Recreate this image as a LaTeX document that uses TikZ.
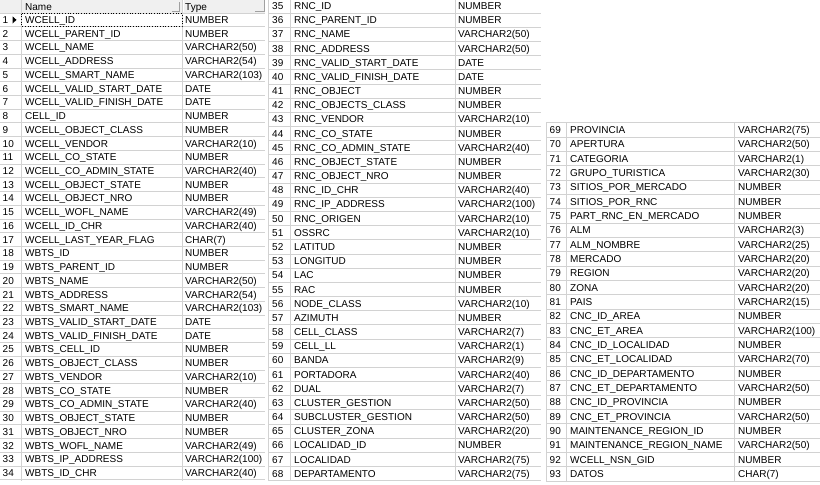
\documentclass[tikz,border=0pt]{standalone}
\usepackage{fontspec}
\setmainfont{Liberation Sans}
\definecolor{gridc}{HTML}{D2D2D2}
\definecolor{hdrfill}{HTML}{F0F0F0}
\definecolor{hdredge}{HTML}{A0A0A0}
\begin{document}
\begin{tikzpicture}[x=1pt,y=-1pt,
  cell/.style={anchor=base west, inner sep=0pt, font=\fontsize{10}{12}\selectfont},
  gridl/.style={draw=gridc, line width=0.8pt},
  edgel/.style={draw=hdredge, line width=0.8pt}]
\useasboundingbox (0,0) rectangle (820,485);
\fill[white] (0,0) rectangle (820,485);
% ---------- panel 1 header
\fill[hdrfill] (0,0) rectangle (265,13);
\draw[gridl] (0,13) -- (265,13);
\draw[edgel] (172,11.5) -- (179,11.5) -- (179,1.5);
\draw[edgel] (255,11.5) -- (264.5,11.5) -- (264.5,0);
\draw[draw=white, line width=0.8pt] (21.5,0) -- (21.5,12) (183,0) -- (183,12);
\draw[gridl] (21,0) -- (21,13) (182,0) -- (182,13);
\node[cell] (hname) at (25,10) {Name};
\node[cell] (htype) at (185,10) {Type};
% ---------- panel 1 rows
\foreach \i/\n/\t [count=\k from 0] in {
 1/WCELL\_ID/NUMBER,
 2/WCELL\_PARENT\_ID/NUMBER,
 3/WCELL\_NAME/VARCHAR2(50),
 4/WCELL\_ADDRESS/VARCHAR2(54),
 5/WCELL\_SMART\_NAME/VARCHAR2(103),
 6/WCELL\_VALID\_START\_DATE/DATE,
 7/WCELL\_VALID\_FINISH\_DATE/DATE,
 8/CELL\_ID/NUMBER,
 9/WCELL\_OBJECT\_CLASS/NUMBER,
 10/WCELL\_VENDOR/VARCHAR2(10),
 11/WCELL\_CO\_STATE/NUMBER,
 12/WCELL\_CO\_ADMIN\_STATE/VARCHAR2(40),
 13/WCELL\_OBJECT\_STATE/NUMBER,
 14/WCELL\_OBJECT\_NRO/NUMBER,
 15/WCELL\_WOFL\_NAME/VARCHAR2(49),
 16/WCELL\_ID\_CHR/VARCHAR2(40),
 17/WCELL\_LAST\_YEAR\_FLAG/CHAR(7),
 18/WBTS\_ID/NUMBER,
 19/WBTS\_PARENT\_ID/NUMBER,
 20/WBTS\_NAME/VARCHAR2(50),
 21/WBTS\_ADDRESS/VARCHAR2(54),
 22/WBTS\_SMART\_NAME/VARCHAR2(103),
 23/WBTS\_VALID\_START\_DATE/DATE,
 24/WBTS\_VALID\_FINISH\_DATE/DATE,
 25/WBTS\_CELL\_ID/NUMBER,
 26/WBTS\_OBJECT\_CLASS/NUMBER,
 27/WBTS\_VENDOR/VARCHAR2(10),
 28/WBTS\_CO\_STATE/NUMBER,
 29/WBTS\_CO\_ADMIN\_STATE/VARCHAR2(40),
 30/WBTS\_OBJECT\_STATE/NUMBER,
 31/WBTS\_OBJECT\_NRO/NUMBER,
 32/WBTS\_WOFL\_NAME/VARCHAR2(49),
 33/WBTS\_IP\_ADDRESS/VARCHAR2(100),
 34/WBTS\_ID\_CHR/VARCHAR2(40)} {
  \pgfmathsetmacro\yc{13+\k*13.73+6.86}
  \draw[gridl] (0,\yc+6.86) -- (265,\yc+6.86);
  \node[cell] (a\i) at (2.5,\yc+3.6) {\i};
  \node[cell] (b\i) at (25,\yc+3.6) {\n};
  \node[cell] (c\i) at (185,\yc+3.6) {\t};
}
\draw[gridl] (21,13) -- (21,481) (182,13) -- (182,481);
\fill[black] (12.5,16.3) -- (16.5,19.9) -- (12.5,23.5) -- cycle;
\draw[black, line width=0.7pt, dotted] (21.5,13.6) rectangle (182,26.3);
% ---------- panel 2 rows
\foreach \i/\n/\t [count=\k from 0] in {
 35/RNC\_ID/NUMBER,
 36/RNC\_PARENT\_ID/NUMBER,
 37/RNC\_NAME/VARCHAR2(50),
 38/RNC\_ADDRESS/VARCHAR2(50),
 39/RNC\_VALID\_START\_DATE/DATE,
 40/RNC\_VALID\_FINISH\_DATE/DATE,
 41/RNC\_OBJECT/NUMBER,
 42/RNC\_OBJECTS\_CLASS/NUMBER,
 43/RNC\_VENDOR/VARCHAR2(10),
 44/RNC\_CO\_STATE/NUMBER,
 45/RNC\_CO\_ADMIN\_STATE/VARCHAR2(40),
 46/RNC\_OBJECT\_STATE/NUMBER,
 47/RNC\_OBJECT\_NRO/NUMBER,
 48/RNC\_ID\_CHR/VARCHAR2(40),
 49/RNC\_IP\_ADDRESS/VARCHAR2(100),
 50/RNC\_ORIGEN/VARCHAR2(10),
 51/OSSRC/VARCHAR2(10),
 52/LATITUD/NUMBER,
 53/LONGITUD/NUMBER,
 54/LAC/NUMBER,
 55/RAC/NUMBER,
 56/NODE\_CLASS/VARCHAR2(10),
 57/AZIMUTH/NUMBER,
 58/CELL\_CLASS/VARCHAR2(7),
 59/CELL\_LL/VARCHAR2(1),
 60/BANDA/VARCHAR2(9),
 61/PORTADORA/VARCHAR2(40),
 62/DUAL/VARCHAR2(7),
 63/CLUSTER\_GESTION/VARCHAR2(50),
 64/SUBCLUSTER\_GESTION/VARCHAR2(50),
 65/CLUSTER\_ZONA/VARCHAR2(20),
 66/LOCALIDAD\_ID/NUMBER,
 67/LOCALIDAD/VARCHAR2(75),
 68/DEPARTAMENTO/VARCHAR2(75)} {
  \pgfmathsetmacro\yc{6+\k*14.17}
  \draw[gridl] (268,\yc+7.08) -- (541,\yc+7.08);
  \node[cell] (a\i) at (272,\yc+3.6) {\i};
  \node[cell] (b\i) at (294,\yc+3.6) {\n};
  \node[cell] (c\i) at (458,\yc+3.6) {\t};
}
\draw[gridl] (268,0) -- (268,481) (290,0) -- (290,481) (455,0) -- (455,481);
% ---------- panel 3 rows
\draw[gridl] (546,122.8) -- (820,122.8);
\foreach \i/\n/\t [count=\k from 0] in {
 69/PROVINCIA/VARCHAR2(75),
 70/APERTURA/VARCHAR2(50),
 71/CATEGORIA/VARCHAR2(1),
 72/GRUPO\_TURISTICA/VARCHAR2(30),
 73/SITIOS\_POR\_MERCADO/NUMBER,
 74/SITIOS\_POR\_RNC/NUMBER,
 75/PART\_RNC\_EN\_MERCADO/NUMBER,
 76/ALM/VARCHAR2(3),
 77/ALM\_NOMBRE/VARCHAR2(25),
 78/MERCADO/VARCHAR2(20),
 79/REGION/VARCHAR2(20),
 80/ZONA/VARCHAR2(20),
 81/PAIS/VARCHAR2(15),
 82/CNC\_ID\_AREA/NUMBER,
 83/CNC\_ET\_AREA/VARCHAR2(100),
 84/CNC\_ID\_LOCALIDAD/NUMBER,
 85/CNC\_ET\_LOCALIDAD/VARCHAR2(70),
 86/CNC\_ID\_DEPARTAMENTO/NUMBER,
 87/CNC\_ET\_DEPARTAMENTO/VARCHAR2(50),
 88/CNC\_ID\_PROVINCIA/NUMBER,
 89/CNC\_ET\_PROVINCIA/VARCHAR2(50),
 90/MAINTENANCE\_REGION\_ID/NUMBER,
 91/MAINTENANCE\_REGION\_NAME/VARCHAR2(50),
 92/WCELL\_NSN\_GID/NUMBER,
 93/DATOS/CHAR(7)} {
  \pgfmathsetmacro\yc{130+\k*14.33}
  \draw[gridl] (546,\yc+7.16) -- (820,\yc+7.16);
  \node[cell] (a\i) at (549.5,\yc+3.6) {\i};
  \node[cell] (b\i) at (570,\yc+3.6) {\n};
  \node[cell] (c\i) at (738,\yc+3.6) {\t};
}
\draw[gridl] (546,122.8) -- (546,481) (566,122.8) -- (566,481) (734,122.8) -- (734,481);
\end{tikzpicture}
\end{document}
